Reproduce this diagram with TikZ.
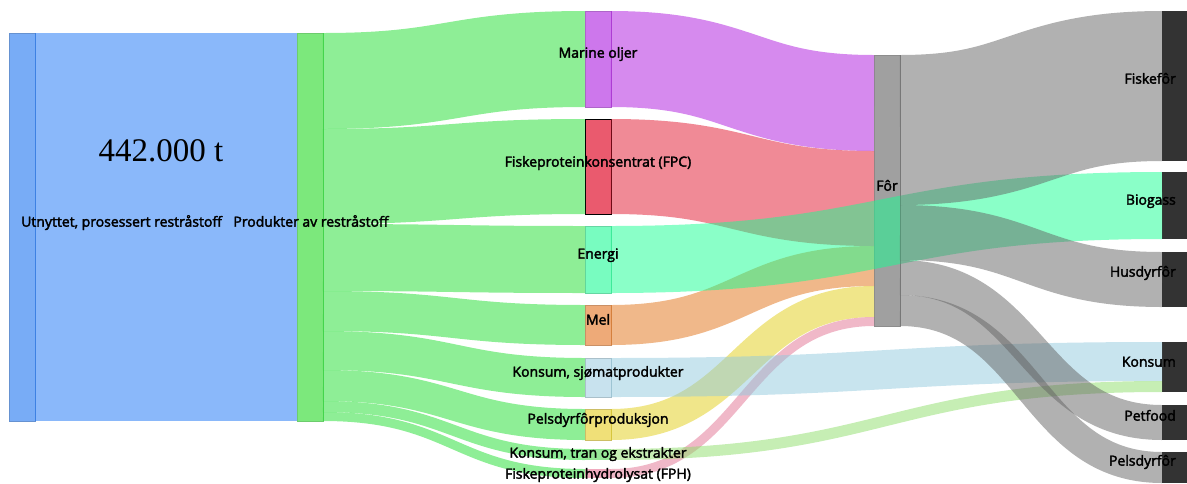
\documentclass[tikz,border=0pt]{standalone}
\usepackage{fontspec}
\setmainfont{Open Sans}
\newfontfamily\lblfont{Open Sans}[FakeBold=2.5]
\newfontfamily\numfont{Liberation Serif}
\usetikzlibrary{calc}

% node fills
\definecolor{cSrc}{RGB}{120,172,246}
\definecolor{cProd}{RGB}{124,232,124}
\definecolor{cMo}{RGB}{205,119,236}
\definecolor{cFpc}{RGB}{234,90,110}
\definecolor{cEn}{RGB}{120,252,192}
\definecolor{cMel}{RGB}{238,170,120}
\definecolor{cKons}{RGB}{200,226,238}
\definecolor{cPels}{RGB}{240,224,120}
\definecolor{cTran}{RGB}{150,230,150}
\definecolor{cFph}{RGB}{240,170,190}
\definecolor{cFor}{RGB}{160,160,160}
\definecolor{cEnd}{RGB}{51,51,51}
% band colours (drawn at half opacity)
\definecolor{fBlue}{RGB}{21,113,245}
\definecolor{fGreen}{RGB}{29,221,45}
\definecolor{fPurple}{RGB}{173,21,221}
\definecolor{fRed}{RGB}{225,21,45}
\definecolor{fMint}{RGB}{21,255,145}
\definecolor{fOrange}{RGB}{225,113,21}
\definecolor{fYellow}{RGB}{225,205,21}
\definecolor{fPink}{RGB}{225,113,145}
\definecolor{fSky}{RGB}{145,201,221}
\definecolor{fLime}{RGB}{141,221,105}
\definecolor{fGray}{RGB}{99,99,99}

\tikzset{
  bar/.style={rectangle, inner sep=0pt, outer sep=0pt, minimum width=26pt,
              anchor=north west, line width=0.5pt},
  band/.style={line cap=butt, opacity=0.5},
  lbl/.style={font=\lblfont\fontsize{14}{16}\selectfont, text=black, inner sep=0pt},
}

% #1 colour, #2 source node, #3 offset in source, #4 target node, #5 offset in target, #6 width
\newcommand\flow[6]{%
  \draw[band, draw=#1, line width=#6pt]
    let \p1=($(#2.north east)+(0,#3+#6/2)$),
        \p2=($(#4.north west)+(0,#5+#6/2)$),
        \p3=($(\p1)!0.5!(\p2)$)
    in (\p1) .. controls (\x3,\y1) and (\x3,\y2) .. (\p2);}

\begin{document}
\begin{tikzpicture}[x=1pt,y=-1pt]
\useasboundingbox (0,0) rectangle (1187,483);

% ---- nodes ----
\node[bar, fill=cSrc, draw=cSrc!85!black, minimum height=388pt] (src) at (9,33) {};
\node[bar, fill=cProd, draw=cProd!88!black, minimum height=388pt] (prod) at (297,33) {};

\node[bar, fill=cMo, draw=cMo!85!black, minimum height=96pt] (mo) at (585,11) {};
\node[bar, fill=cFpc, draw=black, line width=0.9pt, minimum height=95pt] (fpc) at (585,119) {};
\node[bar, fill=cEn, draw=cEn!85!black, minimum height=67pt] (en) at (585,226) {};
\node[bar, fill=cMel, draw=cMel!85!black, minimum height=40pt] (mel) at (585,305) {};
\node[bar, fill=cKons, draw=cKons!85!black, minimum height=39pt] (kons) at (585,358) {};
\node[bar, fill=cPels, draw=cPels!85!black, minimum height=31pt] (pels) at (585,409) {};
\node[bar, fill=cTran, minimum height=11pt] (tran) at (585,449) {};
\node[bar, fill=cFph, minimum height=9pt] (fph) at (585,469) {};

\node[bar, fill=cFor, draw=cFor!88!black, minimum height=271pt] (for) at (874,55) {};

\node[bar, fill=cEnd, minimum height=150pt] (fisk) at (1162,11) {};
\node[bar, fill=cEnd, minimum height=67pt] (bio) at (1162,172) {};
\node[bar, fill=cEnd, minimum height=55pt] (hus) at (1162,252) {};
\node[bar, fill=cEnd, minimum height=50pt] (konsR) at (1162,342) {};
\node[bar, fill=cEnd, minimum height=35pt] (pet) at (1162,405) {};
\node[bar, fill=cEnd, minimum height=31pt] (pelsR) at (1162,452) {};

% ---- bands ----
\flow{fBlue}{src}{0}{prod}{0}{388}

\flow{fGreen}{prod}{0}{mo}{0}{96}
\flow{fGreen}{prod}{96}{fpc}{0}{95}
\flow{fGreen}{prod}{191}{en}{0}{67}
\flow{fGreen}{prod}{258}{mel}{0}{40}
\flow{fGreen}{prod}{298}{kons}{0}{39}
\flow{fGreen}{prod}{337}{pels}{0}{31}
\flow{fGreen}{prod}{368}{tran}{0}{11}
\flow{fGreen}{prod}{379}{fph}{0}{9}

\flow{fPurple}{mo}{0}{for}{0}{96}
\flow{fRed}{fpc}{0}{for}{96}{95}
\flow{fOrange}{mel}{0}{for}{191}{40}
\flow{fYellow}{pels}{0}{for}{231}{31}
\flow{fPink}{fph}{0}{for}{262}{9}

\flow{fMint}{en}{0}{bio}{0}{67}
\flow{fSky}{kons}{0}{konsR}{0}{39}
\flow{fLime}{tran}{0}{konsR}{39}{11}

\flow{fGray}{for}{0}{fisk}{0}{150}
\flow{fGray}{for}{150}{hus}{0}{55}
\flow{fGray}{for}{205}{pet}{0}{35}
\flow{fGray}{for}{240}{pelsR}{0}{31}

% ---- labels ----
\node[font=\numfont\fontsize{33}{36}\selectfont, inner sep=0pt] (total) at (161,151) {442.000 t};
\node[lbl, anchor=mid west] (lsrc) at (21,224) {Utnyttet, prosessert restråstoff};
\node[lbl, anchor=mid] (lprod) at (311,224) {Produkter av restråstoff};

\node[lbl, anchor=mid] (lmo) at (598,55) {Marine oljer};
\node[lbl, anchor=mid] (lfpc) at (598,164) {Fiskeproteinkonsentrat (FPC)};
\node[lbl, anchor=mid] (len) at (598,256) {Energi};
\node[lbl, anchor=mid] (lmel) at (598,322) {Mel};
\node[lbl, anchor=mid] (lkons) at (598,374) {Konsum, sjømatprodukter};
\node[lbl, anchor=mid] (lpels) at (598,421) {Pelsdyrfôrproduksjon};
\node[lbl, anchor=mid] (ltran) at (598,455) {Konsum, tran og ekstrakter};
\node[lbl, anchor=mid] (lfph) at (598,476) {Fiskeproteinhydrolysat (FPH)};

\node[lbl, anchor=mid] (lfor) at (887,188) {Fôr};

\node[lbl, anchor=mid east] (lfisk) at (1176,81) {Fiskefôr};
\node[lbl, anchor=mid east] (lbio) at (1176,202) {Biogass};
\node[lbl, anchor=mid east] (lhus) at (1176,274) {Husdyrfôr};
\node[lbl, anchor=mid east] (lkonsR) at (1176,364) {Konsum};
\node[lbl, anchor=mid east] (lpet) at (1176,418) {Petfood};
\node[lbl, anchor=mid east] (lpelsR) at (1176,463) {Pelsdyrfôr};
\end{tikzpicture}
\end{document}
